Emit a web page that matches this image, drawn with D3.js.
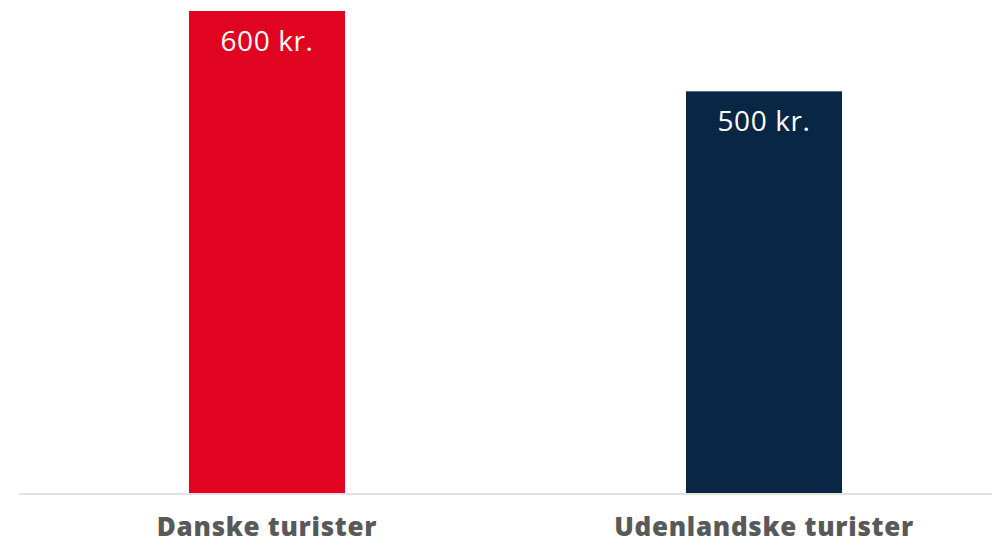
<!DOCTYPE html>
<html><head><meta charset="utf-8">
<script src="https://cdn.jsdelivr.net/npm/d3@7"></script>
<style>body{margin:0;background:#fff}svg{display:block}</style>
</head><body>
<script>
const categories = ["Danske turister", "Udenlandske turister"];
const values = [600, 500];
const valueLabels = ["600 kr.", "500 kr."];
const colors = ["#e00420", "#0a2645"];

const W = 992, H = 540;
const svg = d3.select("body").append("svg").attr("width", W).attr("height", H);
const x = d3.scaleBand().domain(categories).range([18.5, 1012.5]).paddingInner(0.686).paddingOuter(0.343);
const y = d3.scaleLinear().domain([0, 600]).range([493, 11]);

svg.selectAll("rect.bar").data(values).join("rect")
  .attr("x", (d, i) => x(categories[i]))
  .attr("width", x.bandwidth())
  .attr("y", d => y(d))
  .attr("height", d => y(0) - y(d))
  .attr("fill", (d, i) => colors[i]);

svg.append("line").attr("x1", 19).attr("x2", W).attr("y1", 494).attr("y2", 494)
  .attr("stroke", "#d9d9d9").attr("stroke-width", 1.5);

svg.selectAll("text.val").data(values).join("text")
  .attr("x", (d, i) => x(categories[i]) + x.bandwidth() / 2)
  .attr("y", d => y(d) + 40)
  .attr("text-anchor", "middle")
  .attr("fill", "#fff")
  .attr("font-family", "'Open Sans', sans-serif")
  .attr("font-size", 28)
  .attr("letter-spacing", 0.6)
  .text((d, i) => valueLabels[i]);

svg.selectAll("text.cat").data(categories).join("text")
  .attr("x", d => x(d) + x.bandwidth() / 2)
  .attr("y", 536)
  .attr("text-anchor", "middle")
  .attr("fill", "#595959")
  .attr("font-family", "'Open Sans', sans-serif")
  .attr("font-weight", 800)
  .attr("font-size", 26)
  .attr("letter-spacing", 0.7)
  .text(d => d);
</script>
</body></html>
